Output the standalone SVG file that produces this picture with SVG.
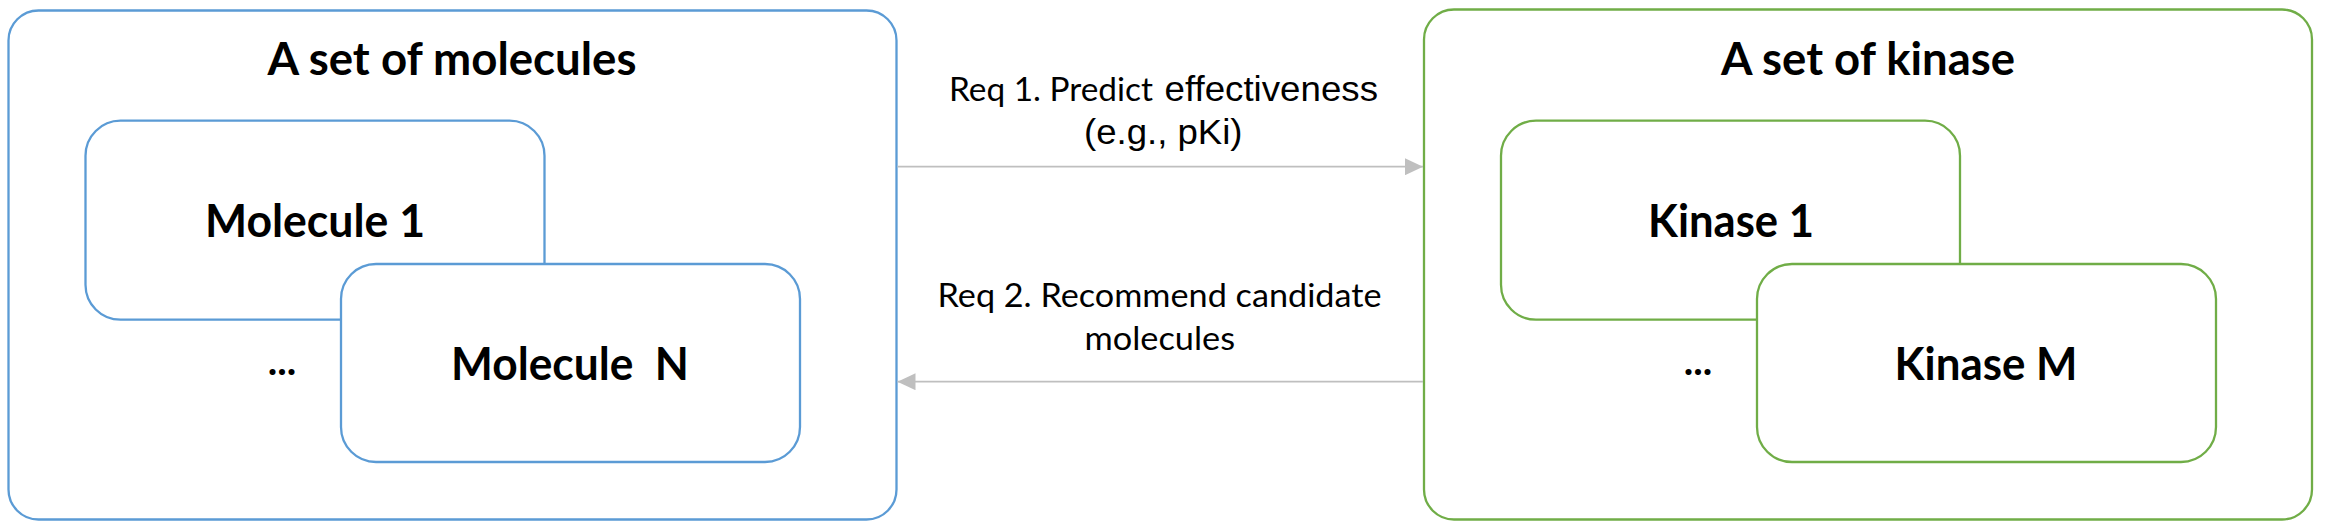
<svg xmlns="http://www.w3.org/2000/svg" width="2329" height="526" viewBox="0 0 2329 526">
<style>
.blue{fill:#fff;stroke:#5B9BD5;stroke-width:2.3}
.green{fill:#fff;stroke:#70AD47;stroke-width:2.3}
.t{font-family:Lato,"Liberation Sans",sans-serif;font-weight:bold;fill:#000;text-anchor:middle}
.lbl{font-family:Lato,"Liberation Sans",sans-serif;fill:#000}
.arial{font-family:"Liberation Sans",Arial,sans-serif;fill:#000}
.conn{stroke:#BFBFBF;stroke-width:1.8;fill:none}
</style>
<defs>
<marker id="ah" markerUnits="userSpaceOnUse" markerWidth="18" markerHeight="17" refX="18" refY="8.5" orient="auto">
<path d="M0,0 L18,8.5 L0,17 z" fill="#BFBFBF"/>
</marker>
</defs>
<rect width="2329" height="526" fill="#fff"/>
<g id="molecules">
<rect class="blue" x="8.5" y="10.5" width="888" height="509" rx="30"/>
<text class="t" x="452" y="75" font-size="46" textLength="369" lengthAdjust="spacingAndGlyphs">A set of molecules</text>
</g>
<g id="molecule1">
<rect class="blue" x="85.5" y="120.7" width="459" height="199" rx="35"/>
<text class="t" x="315" y="237" font-size="46" textLength="220" lengthAdjust="spacingAndGlyphs">Molecule 1</text>
</g>
<g id="moleculeN">
<rect class="blue" x="341" y="264" width="459" height="198" rx="35"/>
<text class="t" x="570" y="380" font-size="46" textLength="238" lengthAdjust="spacingAndGlyphs" xml:space="preserve">Molecule  N</text>
</g>
<text class="t" x="282" y="375" font-size="40">...</text>
<g id="kinases">
<rect class="green" x="1424" y="9.5" width="888" height="510" rx="30"/>
<text class="t" x="1868" y="75" font-size="46" textLength="294" lengthAdjust="spacingAndGlyphs">A set of kinase</text>
</g>
<g id="kinase1">
<rect class="green" x="1501" y="120.7" width="459" height="199" rx="35"/>
<text class="t" x="1731" y="237" font-size="46" textLength="166" lengthAdjust="spacingAndGlyphs">Kinase 1</text>
</g>
<g id="kinaseM">
<rect class="green" x="1757" y="264" width="459" height="198" rx="35"/>
<text class="t" x="1986" y="380" font-size="46" textLength="183" lengthAdjust="spacingAndGlyphs">Kinase M</text>
</g>
<text class="t" x="1698" y="375" font-size="40">...</text>
<g id="connectors">
<line class="conn" x1="897.5" y1="166.7" x2="1423" y2="166.7" marker-end="url(#ah)"/>
<line class="conn" x1="1423" y1="381.7" x2="897.5" y2="381.7" marker-end="url(#ah)"/>
<text class="lbl" x="949" y="101" font-size="33" textLength="204" lengthAdjust="spacingAndGlyphs">Req 1. Predict</text>
<text class="arial" x="1164.5" y="101" font-size="35" textLength="213.5" lengthAdjust="spacingAndGlyphs">effectiveness</text>
<text class="arial" x="1084" y="144" font-size="35" textLength="158.5" lengthAdjust="spacingAndGlyphs">(e.g., pKi)</text>
<text class="lbl" x="937.5" y="307" font-size="33" textLength="444" lengthAdjust="spacingAndGlyphs">Req 2. Recommend candidate</text>
<text class="lbl" x="1084.5" y="350" font-size="33" textLength="150.5" lengthAdjust="spacingAndGlyphs">molecules</text>
</g>
</svg>
